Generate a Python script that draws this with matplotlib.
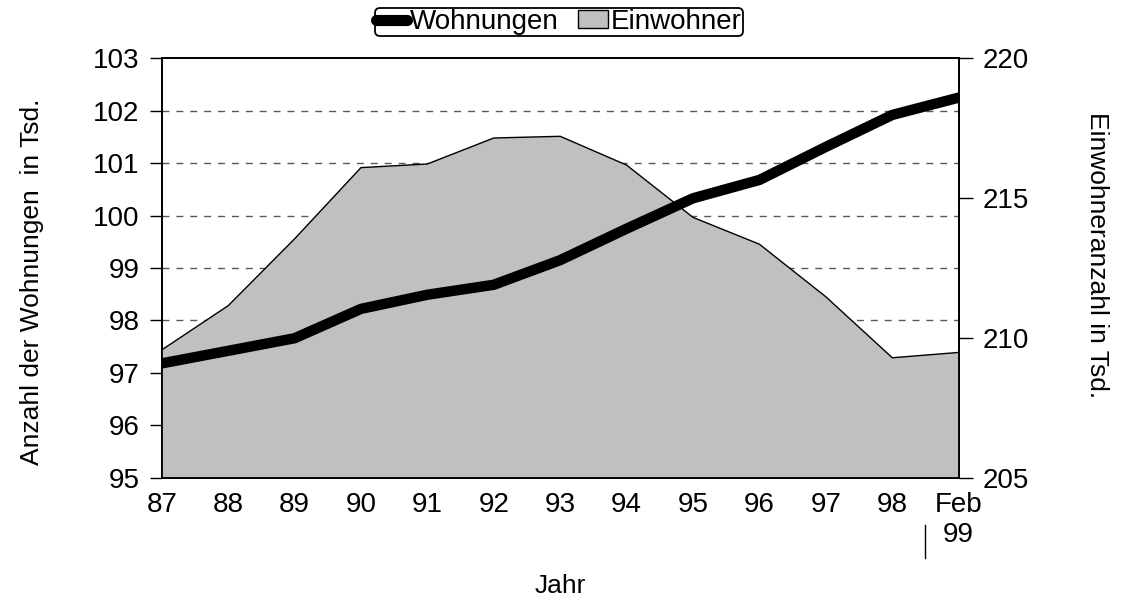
import matplotlib
matplotlib.use("Agg")
import matplotlib.pyplot as plt
from matplotlib.lines import Line2D
from matplotlib.patches import Patch

plt.rcParams['font.family'] = ['Liberation Sans', 'DejaVu Sans']

years = ['87', '88', '89', '90', '91', '92', '93', '94', '95', '96', '97', '98', 'Feb\n99']
wohnungen = [97.18, 97.42, 97.66, 98.22, 98.49, 98.68, 99.15, 99.75, 100.33, 100.68, 101.31, 101.92, 102.25]
einwohner = [209.57, 211.15, 213.54, 216.09, 216.22, 217.15, 217.21, 216.18, 214.31, 213.35, 211.47, 209.29, 209.48]

left_ticks = [95, 96, 97, 98, 99, 100, 101, 102, 103]
grid_levels = [97, 98, 99, 100, 101, 102]
right_ticks = [205, 210, 215, 220]

FS = 20

fig = plt.figure(figsize=(11.21, 6.01), dpi=100)
ax = fig.add_axes([161.7 / 1121, 1 - 477.7 / 601, (958.7 - 161.7) / 1121, (477.7 - 58.3) / 601])
ax2 = ax.twinx()

x = list(range(len(years)))

ax.set_xlim(0, len(years) - 1)
ax.set_ylim(95, 103)
ax2.set_ylim(205, 220)
ax.set_yticks(left_ticks)
ax2.set_yticks(right_ticks)
ax.set_xticks(x)
ax.set_xticklabels(years, fontsize=FS, linespacing=1.2)
ax.tick_params(axis='x', length=0, pad=10)
ax.tick_params(axis='y', labelsize=FS, length=9, width=1, direction='out', pad=7)
ax2.tick_params(axis='y', labelsize=FS, length=10, width=1, direction='out', pad=7)

for a in (ax, ax2):
    for s in a.spines.values():
        s.set_linewidth(1.3)
        s.set_color('black')

# grid on left axis, dashed
for v in grid_levels:
    ax.axhline(v, color='0.35', linewidth=1.0, dashes=(5, 5), zorder=0)

# area on right axis
ax2.fill_between(x, 205, einwohner, facecolor='#c0c0c0', edgecolor='none', zorder=1)
ax2.plot(x, einwohner, color='black', linewidth=1.0, zorder=2)

# thick line (left-axis data) drawn on top
ax2.plot(x, wohnungen, color='black', linewidth=7.5, solid_capstyle='round',
         solid_joinstyle='round', transform=ax.transData, zorder=3)

ax.set_ylabel('Anzahl der Wohnungen  in Tsd.', fontsize=19, labelpad=35)
ax.yaxis.label.set_y(0.467)
ax2.set_ylabel('Einwohneranzahl in Tsd.', fontsize=19, rotation=-90, labelpad=58)
ax2.yaxis.label.set_y(0.531)
ax.set_xlabel('Jahr', fontsize=19, labelpad=19)

# small separator line near last label
sep = Line2D([925 / 1121, 925 / 1121], [1 - 525 / 601, 1 - 558 / 601],
             transform=fig.transFigure, color='black', linewidth=1)
fig.add_artist(sep)

handles = [Line2D([0], [0], color='black', linewidth=8, solid_capstyle='round'),
           Patch(facecolor='#c0c0c0', edgecolor='black', linewidth=1)]
leg = fig.legend(handles, ['Wohnungen', 'Einwohner'], loc='center',
                 bbox_to_anchor=(559 / 1121, 1 - 22 / 601), ncol=2, fontsize=FS,
                 frameon=True, fancybox=True, handlelength=1.1, handletextpad=0.1,
                 columnspacing=0.7, borderpad=0.05, borderaxespad=0, handleheight=0.6)
leg.get_frame().set_edgecolor('black')
leg.get_frame().set_linewidth(1.3)
leg.get_frame().set_alpha(1)

fig.savefig('out.png', dpi=100)
